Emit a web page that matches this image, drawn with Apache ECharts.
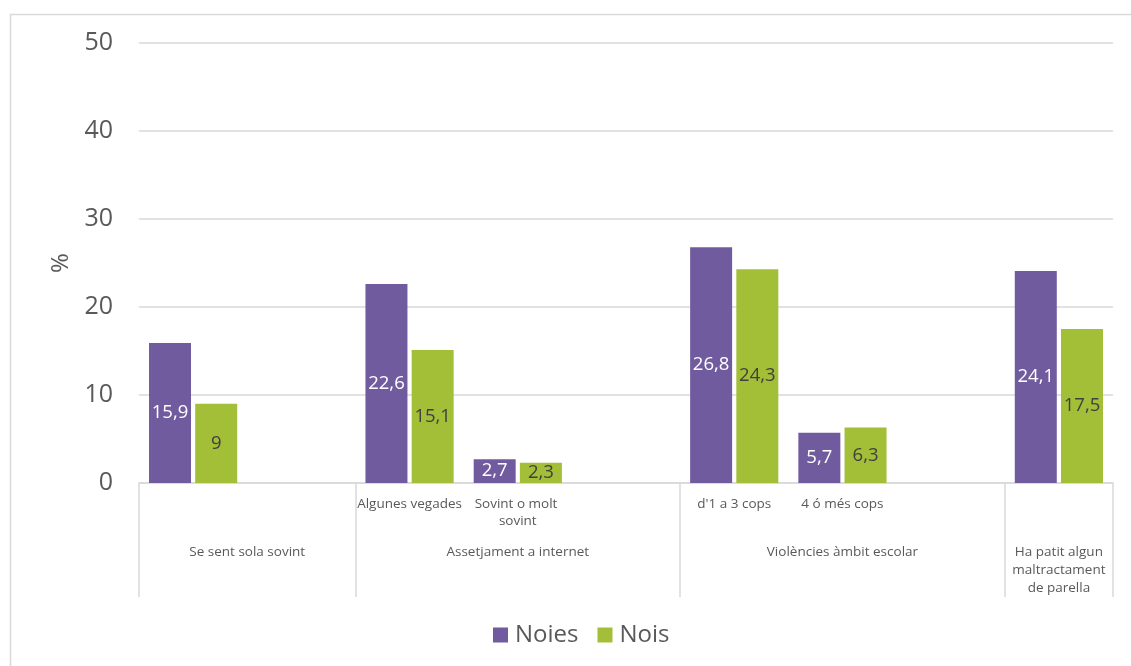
<!DOCTYPE html>
<html>
<head>
<meta charset="utf-8">
<script src="https://cdn.jsdelivr.net/npm/echarts@6/dist/echarts.min.js"></script>
<style>
  html, body { margin: 0; padding: 0; background: #fff; }
  #chart { width: 1131px; height: 666px; }
</style>
</head>
<body>
<div id="chart"></div>
<script>
// Sub-category slots (blank slots pad the groups)
const subLabels = ['', '', 'Algunes vegades', 'Sovint o molt sovint', '', "d'1 a 3 cops", '4 ó més cops', '', ''];
const noies = [15.9, null, 22.6, 2.7, null, 26.8, 5.7, null, 24.1];
const nois  = [9, null, 15.1, 2.3, null, 24.3, 6.3, null, 17.5];

// Group headings: centre position (in slot units) and boundaries
const groupNames = ['Se sent sola sovint', 'Assetjament a internet', 'Violències àmbit escolar', 'Ha patit algun\nmaltractament\nde parella'];
const groupCenters = [1, 3.5, 6.5, 8.5];
const groupBounds = [0, 2, 5, 8, 9];

const yTicks = [0, 10, 20, 30, 40, 50];

const FONT = '"Open Sans", "Noto Sans", sans-serif';
const TXT = '#595959';
const LINE = '#d9d9d9';

const fmt = v => String(v).replace('.', ',');

const chart = echarts.init(document.getElementById('chart'));
chart.setOption({
  backgroundColor: '#fff',
  textStyle: { fontFamily: FONT },
  animation: false,
  graphic: [{
    type: 'rect',
    left: 8, top: 12,
    shape: { width: 1140, height: 680 },
    style: { fill: 'none', stroke: LINE, lineWidth: 1.5 },
    silent: true
  }],
  grid: { left: 139, right: 18, top: 43, bottom: 183 },
  legend: {
    bottom: 14,
    left: 488,
    itemWidth: 15,
    itemHeight: 15,
    itemGap: 19,
    icon: 'rect',
    textStyle: { fontSize: 24, color: TXT, fontFamily: FONT, padding: [0, 0, 0, 2] },
    data: ['Noies', 'Nois']
  },
  xAxis: [{
    type: 'category',
    data: subLabels,
    position: 'bottom',
    axisLine: { lineStyle: { color: LINE, width: 1.5 } },
    axisTick: { show: false },
    axisLabel: {
      interval: 0,
      margin: 13,
      fontSize: 13.5,
      color: TXT,
      fontFamily: FONT,
      width: 108,
      overflow: 'break',
      lineHeight: 17,
      verticalAlign: 'top'
    }
  }, {
    type: 'value',
    min: 0,
    max: 9,
    position: 'bottom',
    axisLine: { show: false },
    splitLine: { show: false },
    axisTick: {
      show: true,
      customValues: groupBounds,
      length: 114,
      lineStyle: { color: LINE, width: 1.5 }
    },
    axisLabel: {
      customValues: groupCenters,
      margin: 60,
      fontSize: 13.5,
      color: TXT,
      fontFamily: FONT,
      lineHeight: 18,
      verticalAlign: 'top',
      formatter: v => groupNames[groupCenters.indexOf(v)]
    }
  }],
  yAxis: {
    type: 'value',
    min: yTicks[0],
    max: yTicks[yTicks.length - 1],
    interval: 10,
    name: '%',
    nameLocation: 'middle',
    nameGap: 60,
    nameTextStyle: { fontSize: 24, color: TXT, fontFamily: FONT },
    axisLine: { show: false },
    axisTick: { show: false },
    axisLabel: { fontSize: 25, color: TXT, margin: 26, fontFamily: FONT },
    splitLine: { lineStyle: { color: LINE, width: 1.5 } }
  },
  series: [{
    name: 'Noies',
    type: 'bar',
    data: noies,
    barWidth: 42,
    barGap: '10%',
    itemStyle: { color: '#715b9f' },
    label: {
      show: true,
      position: 'inside',
      color: '#ffffff',
      fontSize: 18.5,
      fontFamily: FONT,
      formatter: p => fmt(p.value)
    }
  }, {
    name: 'Nois',
    type: 'bar',
    data: nois,
    barWidth: 42,
    barGap: '10%',
    itemStyle: { color: '#a3be37' },
    label: {
      show: true,
      position: 'inside',
      color: '#404040',
      fontSize: 18.5,
      fontFamily: FONT,
      formatter: p => fmt(p.value)
    }
  }]
});
</script>
</body>
</html>
